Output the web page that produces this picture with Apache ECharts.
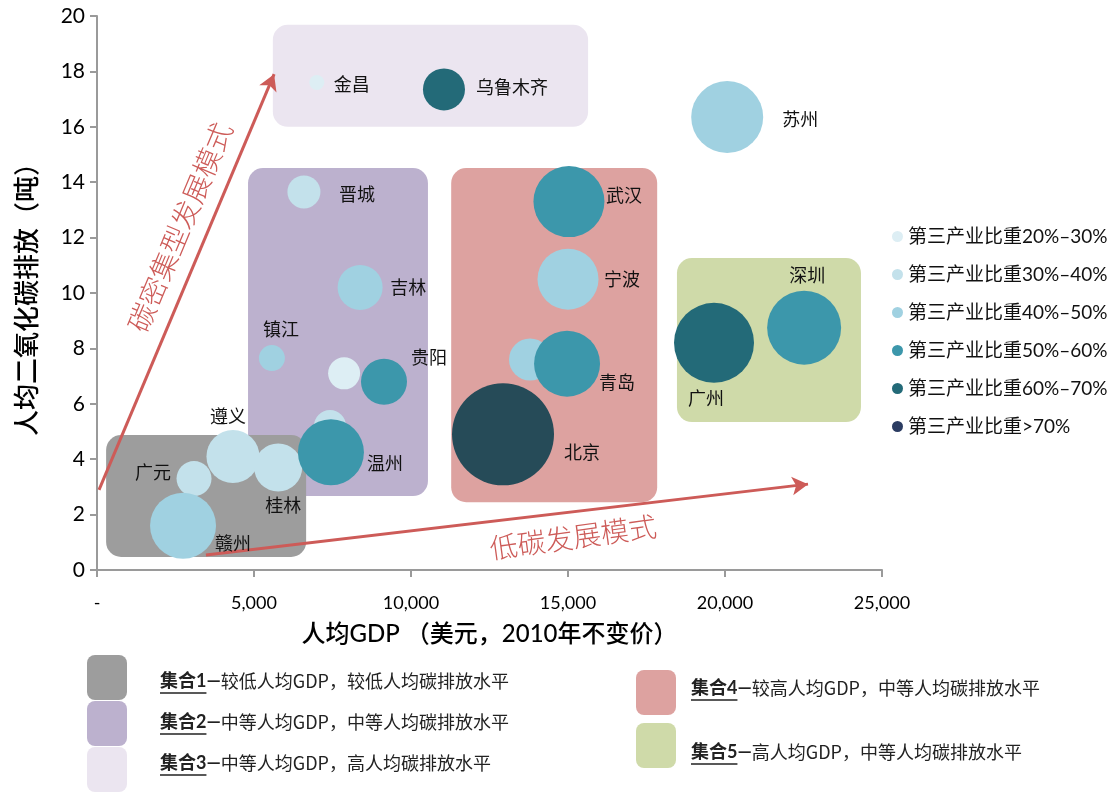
<!DOCTYPE html>
<html><head><meta charset="utf-8">
<script src="https://cdn.jsdelivr.net/npm/echarts@6/dist/echarts.min.js"></script>
<style>html,body{margin:0;padding:0;background:#fff}#c{width:1114px;height:792px}</style>
</head><body><div id="c"></div>
<script>
// ---------------- data ----------------
const cities        = ['金昌','乌鲁木齐','苏州','晋城','武汉','吉林','宁波','镇江','','贵阳','','温州','遵义','广元','桂林','赣州','','青岛','北京','广州','深圳'];
const gdpPerCapita  = [7000, 11050, 20070, 6590, 15030, 8380, 15000, 5570, 7870, 9140, 7420, 7450, 4330, 3090, 5770, 2740, 13790, 14970, 12930, 19650, 22520];
const co2PerCapita  = [17.6, 17.35, 16.35, 13.65, 13.3, 10.2, 10.5, 7.65, 7.1, 6.8, 5.2, 4.25, 4.1, 3.3, 3.7, 1.6, 7.6, 7.45, 4.9, 8.2, 8.75];
const bubbleSize    = [15, 42, 72, 33, 71, 45, 61, 26, 32, 46, 32, 66, 53, 35, 48, 66, 42, 66, 102, 80, 74];
const tertiaryGroup = [0, 4, 2, 1, 3, 2, 2, 2, 0, 3, 1, 3, 1, 1, 1, 2, 2, 3, 5, 4, 3];
const groupNames    = ['第三产业比重20%–30%','第三产业比重30%–40%','第三产业比重40%–50%','第三产业比重50%–60%','第三产业比重60%–70%','第三产业比重>70%'];

const clusterNames = ['集合3','集合2','集合4','集合5','集合1'];
const clusterGdpMin = [5600, 4810, 11280, 18470, 290];
const clusterGdpMax = [15640, 10540, 17840, 24330, 6660];
const clusterCo2Min = [16.0, 2.67, 2.45, 5.34, 0.47];
const clusterCo2Max = [19.68, 14.51, 14.51, 11.26, 4.87];
const clusterDesc = {
  '集合1':'较低人均GDP，较低人均碳排放水平',
  '集合2':'中等人均GDP，中等人均碳排放水平',
  '集合3':'中等人均GDP，高人均碳排放水平',
  '集合4':'较高人均GDP，中等人均碳排放水平',
  '集合5':'高人均GDP，中等人均碳排放水平'
};

const xTicks = [0, 5000, 10000, 15000, 20000, 25000];
const yTicks = [0, 2, 4, 6, 8, 10, 12, 14, 16, 18, 20];

const trendNames = ['碳密集型发展模式','低碳发展模式'];
const trendFrom = [[64, 2.89], [3470, 0.54]];
const trendTo   = [[5640, 17.9], [22645, 3.1]];
const trendTextAt = [[2644, 12.38], [15160, 1.19]];

// ---------------- styles ----------------
const groupColors = ['#ddeef4','#c3e1eb','#a0d1e1','#3c97ab','#236a78','#264b58'];
const legendIconColors = ['#ddeef4','#c3e1eb','#a0d1e1','#3c97ab','#236a78','#2b3c62'];
const clusterColors = {'集合1':'#9d9d9d','集合2':'#bcb1ce','集合3':'#ebe5f0','集合4':'#dda2a0','集合5':'#cfdaa9'};
const labelOffsets = {
  '金昌':[35,2],'乌鲁木齐':[68,-2],'苏州':[73,2],'晋城':[53,2],'武汉':[55,-6],'吉林':[48,0],
  '宁波':[54,0],'镇江':[9,-29],'贵阳':[45,-24],'温州':[54,11],'遵义':[-5,-40],'广元':[-41,-6],
  '桂林':[5,38],'赣州':[50,17],'青岛':[50,19],'北京':[79,18],'深圳':[3,-52],'广州':[-8,55]
};
const FONT = 'Lato, "Noto Sans CJK SC", sans-serif';
const CJK = '"Noto Sans CJK SC", sans-serif';
const ARROW = '#cd5b58';

// ---------------- build ----------------
const chart = echarts.init(document.getElementById('c'), null, {renderer:'canvas'});

const boxData = clusterNames.map((n,i)=>({name:n, value:[clusterGdpMin[i], clusterCo2Min[i], clusterGdpMax[i], clusterCo2Max[i]]}));

const scatterSeries = groupNames.map((g, gi) => {
  const data = [];
  cities.forEach((c, i) => {
    if (tertiaryGroup[i] !== gi) return;
    const off = labelOffsets[c] || [0,0];
    data.push({
      name: c,
      value: [gdpPerCapita[i], co2PerCapita[i], bubbleSize[i]],
      label: {show: !!c, position:'inside', offset: off}
    });
  });
  return {
    name: g, type:'scatter', data,
    symbolSize: d => d[2],
    itemStyle: {color: groupColors[gi], opacity: 1},
    label: {formatter: p => p.name, color:'#111', fontSize:18, fontFamily: CJK},
    emphasis: {disabled:true},
    z: 5
  };
});

const option = {
  animation:false,
  backgroundColor:'#fff',
  grid:{left:97, right:232, top:16, bottom:222},
  xAxis:{
    type:'value', min:xTicks[0], max:xTicks[xTicks.length-1], interval:xTicks[1]-xTicks[0],
    name:'人均GDP （美元，2010年不变价）', nameLocation:'middle', nameGap:52,
    nameTextStyle:{fontSize:24, color:'#000', fontFamily:FONT, fontWeight:500},
    axisLine:{lineStyle:{color:'#9a9a9a', width:2}},
    axisTick:{show:true, length:7, lineStyle:{color:'#9a9a9a', width:2}},
    axisLabel:{fontSize:18, color:'#000', margin:24, fontFamily:FONT,
      formatter: v => v===0 ? '-' : v.toLocaleString('en-US')},
    splitLine:{show:false}
  },
  yAxis:{
    type:'value', min:yTicks[0], max:yTicks[yTicks.length-1], interval:yTicks[1]-yTicks[0],
    name:'人均二氧化碳排放（吨）', nameLocation:'middle', nameGap:56, nameRotate:90,
    nameTextStyle:{fontSize:26, color:'#000', fontFamily:FONT, fontWeight:500},
    axisLine:{show:true, lineStyle:{color:'#9a9a9a', width:2}},
    axisTick:{show:true, length:7, lineStyle:{color:'#9a9a9a', width:2}},
    axisLabel:{fontSize:21, color:'#000', margin:12, fontFamily:FONT},
    splitLine:{show:false}
  },
  legend:{
    orient:'vertical', left:887, top:221, itemWidth:11, itemHeight:11, itemGap:17,
    icon:'circle',
    textStyle:{fontSize:19, color:'#111', fontFamily:FONT, lineHeight:21},
    data: groupNames.map((n,i)=>({name:n, icon:'circle', itemStyle:{color:legendIconColors[i]}})),
    selectedMode:false
  },
  series:[
    {
      type:'custom', name:'clusters', silent:true, z:1,
      renderItem:(params, api) => {
        const p0 = api.coord([api.value(0), api.value(3)]);
        const p1 = api.coord([api.value(2), api.value(1)]);
        const name = boxData[params.dataIndex].name;
        return {type:'rect', shape:{x:p0[0], y:p0[1], width:p1[0]-p0[0], height:p1[1]-p0[1], r:15},
          style:{fill: clusterColors[name]}};
      },
      data: boxData
    },
    {
      type:'scatter', name:'trend', data:[], silent:true, z:3,
      markLine:{
        silent:true, symbol:['none','arrow'], symbolSize:[14,16],
        label:{show:false},
        lineStyle:{color:ARROW, width:3, type:'solid'},
        emphasis:{disabled:true},
        data: trendFrom.map((f,i)=>[{coord:f},{coord:trendTo[i]}])
      }
    },
    ...scatterSeries
  ]
};
chart.setOption(option);

// annotation texts along arrows + bottom cluster legend
const graphics = [];
trendNames.forEach((t,i)=>{
  const p = chart.convertToPixel({gridIndex:0}, trendTextAt[i]);
  const a = chart.convertToPixel({gridIndex:0}, trendFrom[i]);
  const b = chart.convertToPixel({gridIndex:0}, trendTo[i]);
  const ang = Math.atan2(a[1]-b[1], b[0]-a[0]);
  graphics.push({type:'text', x:p[0], y:p[1], rotation: ang + (i===1 ? 0.02 : 0), z:10,
    style:{text:t, fontSize:28, fontWeight:300, fill:ARROW, fontFamily:CJK, align:'center', verticalAlign:'middle'}});
});

const ctx = document.createElement('canvas').getContext('2d');
const legendPos = {
  '集合1':{box:[87,655], text:[160,681]},
  '集合2':{box:[87,701], text:[160,722]},
  '集合3':{box:[87,747], text:[160,763]},
  '集合4':{box:[636,670], text:[691,688]},
  '集合5':{box:[636,723], text:[691,752]}
};
['集合1','集合2','集合3','集合4','集合5'].forEach(n=>{
  const lp = legendPos[n];
  graphics.push({type:'rect', shape:{x:lp.box[0], y:lp.box[1], width:40, height:45, r:8}, style:{fill:clusterColors[n]}, z:10});
  graphics.push({type:'text', x:lp.text[0], y:lp.text[1], z:10,
    style:{text:'{a|'+n+'—}{b|'+clusterDesc[n]+'}', verticalAlign:'middle',
      rich:{a:{fontSize:18, fontWeight:'bold', fill:'#222', fontFamily:FONT},
            b:{fontSize:18, fill:'#222', fontFamily:CJK}}}});
  ctx.font = 'bold 18px ' + FONT;
  const w = ctx.measureText(n).width;
  graphics.push({type:'line', shape:{x1:lp.text[0], y1:lp.text[1]+12, x2:lp.text[0]+w, y2:lp.text[1]+12}, style:{stroke:'#222', lineWidth:1.5}, z:10});
});
chart.setOption({graphic: graphics});
</script></body></html>
